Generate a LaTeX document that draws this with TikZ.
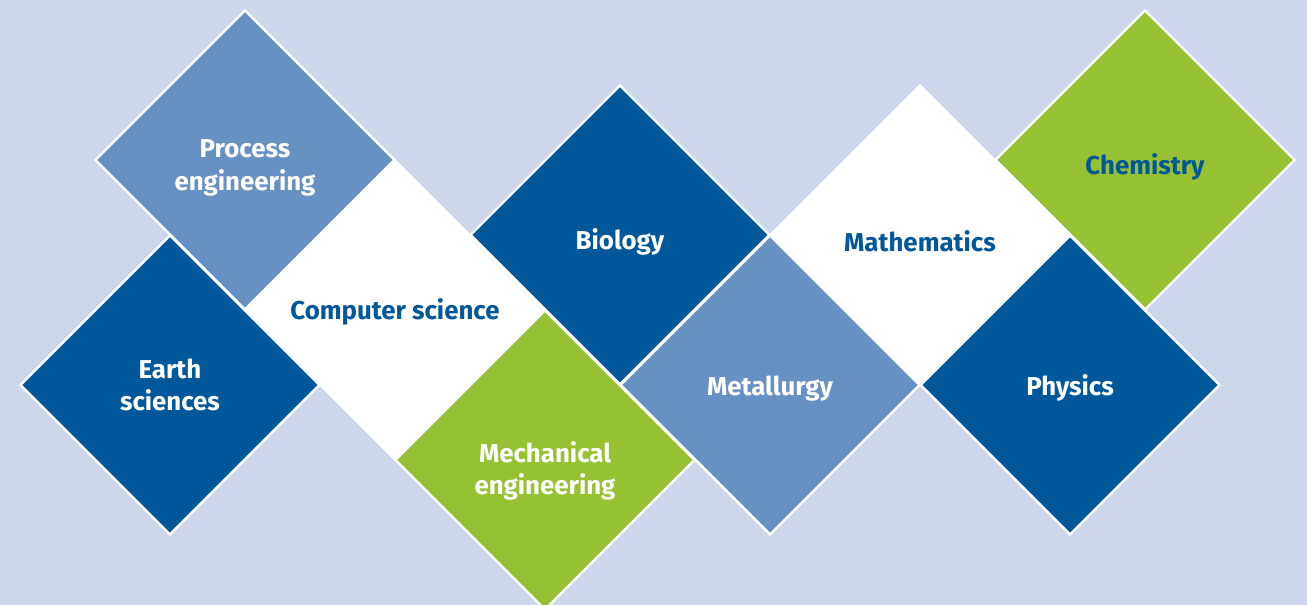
\documentclass[tikz,border=0pt]{standalone}
\usepackage{fontspec}
\setsansfont{Fira Sans}
\usetikzlibrary{shapes.geometric, positioning}

\definecolor{bgblue}{HTML}{CCD7EB}
\definecolor{darkblue}{HTML}{00589A}
\definecolor{midblue}{HTML}{6891C3}
\definecolor{leafgreen}{HTML}{96C132}

% invisible strut that sets the label a little below the tile centre
\newcommand{\tilestrut}[1][19.5pt]{\rule{0pt}{#1}}

\begin{document}
\begin{tikzpicture}[on grid, every node/.style={font=\sffamily\bfseries\fontsize{14.7}{18.6}\selectfont, align=center},
  tile/.style={diamond, aspect=1, minimum size=6cm, inner sep=0pt, draw=white, line width=1.4pt},
  darktile/.style={tile, fill=darkblue, text=white},
  lighttile/.style={tile, fill=midblue, text=white},
  greentile/.style={tile, fill=leafgreen, text=white},
  whitetile/.style={tile, fill=white, text=darkblue}]
\fill[bgblue] (-4.9,-8.9) rectangle (21.24,3.2);
\useasboundingbox (-4.9,-8.9) rectangle (21.24,3.2);

\node (proc) [lighttile] at (0,0) {\tilestrut Process\\engineering};
\node (cs) [whitetile, below right=3cm and 3cm of proc] {\tilestrut[14pt]Computer science};
\node (earth) [darktile, below left=1.5cm and 4.5cm of cs] {Earth\\sciences};
\node (bio) [darktile, above right=1.5cm and 4.5cm of cs] {\tilestrut Biology};
\node (mech) [greentile, below right=3cm and 3cm of cs] {\tilestrut[24.3pt]Mechanical\\engineering};
\node (metal) [lighttile, below right=3cm and 3cm of bio] {\tilestrut[15pt]Metallurgy};
\node (math) [whitetile, above right=3cm and 3cm of metal] {\tilestrut Mathematics};
\node (chem) [greentile, text=darkblue, above right=1.5cm and 4.5cm of math] {\tilestrut Chemistry};
\node (phys) [darktile, below right=3cm and 3cm of math] {\tilestrut[15pt]Physics};
\end{tikzpicture}
\end{document}
